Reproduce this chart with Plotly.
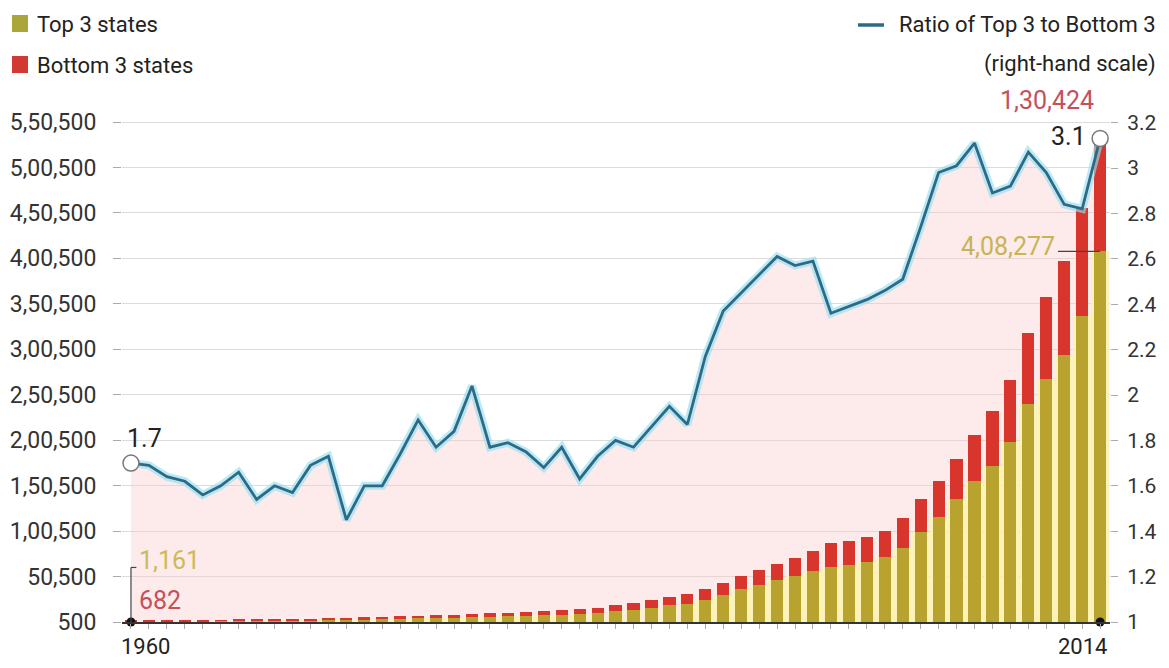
import plotly.graph_objects as go

years = list(range(1960, 2015))

top3 = [1161, 1225, 1273, 1391, 1584, 1662, 1872, 2122, 2215, 2321,
        2576, 2725, 2722, 3385, 3938, 4191, 4512, 4984, 5313, 5905,
        6390, 6801, 7318, 8087, 8690, 9173, 10329, 12214, 13930, 16259,
        18773, 20199, 25054, 30592, 36572, 41570, 46633, 50896, 56705, 61529,
        63381, 66232, 71738, 81808, 99856, 116504, 135262, 155727, 172583, 198888,
        239867, 268045, 294354, 336628, 408277]

bottom3 = [682, 725, 777, 859, 1016, 1038, 1128, 1378, 1385, 1479,
           1524, 1575, 1878, 2115, 2462, 2409, 2388, 2816, 2887, 2895,
           3610, 3799, 4182, 4813, 4910, 5627, 5971, 6786, 7870, 8741,
           9627, 10801, 11546, 12908, 14928, 16430, 17867, 19804, 21895, 26071,
           26519, 27368, 29162, 32592, 36444, 39096, 44938, 50073, 59717, 68112,
           78133, 89955, 103646, 119372, 130424]

ratio = [1.70, 1.69, 1.64, 1.62, 1.56, 1.60, 1.66, 1.54, 1.60, 1.57,
         1.69, 1.73, 1.45, 1.60, 1.60, 1.74, 1.89, 1.77, 1.84, 2.04,
         1.77, 1.79, 1.75, 1.68, 1.77, 1.63, 1.73, 1.80, 1.77, 1.86,
         1.95, 1.87, 2.17, 2.37, 2.45, 2.53, 2.61, 2.57, 2.59, 2.36,
         2.39, 2.42, 2.46, 2.51, 2.74, 2.98, 3.01, 3.11, 2.89, 2.92,
         3.07, 2.98, 2.84, 2.82, 3.13]

left_ticks = [500, 50500, 100500, 150500, 200500, 250500, 300500,
              350500, 400500, 450500, 500500, 550500]
left_labels = ["500", "50,500", "1,00,500", "1,50,500", "2,00,500", "2,50,500",
               "3,00,500", "3,50,500", "4,00,500", "4,50,500", "5,00,500", "5,50,500"]
right_ticks = [1, 1.2, 1.4, 1.6, 1.8, 2, 2.2, 2.4, 2.6, 2.8, 3, 3.2]
right_labels = ["1", "1.2", "1.4", "1.6", "1.8", "2", "2.2", "2.4", "2.6", "2.8", "3", "3.2"]

legend_labels = ["Top 3 states", "Bottom 3 states", "Ratio of Top 3 to Bottom 3", "(right-hand scale)"]

OLIVE = "#b8a330"
RED = "#d8362c"
LINE = "#2c6a85"
FONT = "Roboto, sans-serif"

fig = go.Figure()

# pink area under the ratio line (main subplot, drawn first)
fig.add_trace(go.Scatter(x=years, y=ratio, yaxis="y", mode="lines",
                         line=dict(width=0), fill="tozeroy",
                         fillcolor="rgba(250,200,200,0.38)",
                         showlegend=False, hoverinfo="skip"))

# pale glow behind olive bars
fig.add_trace(go.Bar(x=years, y=top3, yaxis="y2", width=0.98,
                     marker=dict(color="#fdf3b8", line=dict(width=0)),
                     showlegend=False, hoverinfo="skip"))
fig.add_trace(go.Bar(x=years, y=top3, yaxis="y2", width=0.68, name=legend_labels[0],
                     marker=dict(color=OLIVE, line=dict(width=0)), showlegend=False))
fig.add_trace(go.Bar(x=years, y=bottom3, base=top3, yaxis="y2", width=0.68,
                     name=legend_labels[1],
                     marker=dict(color=RED, line=dict(width=0)), showlegend=False))

# axis dots
fig.add_trace(go.Scatter(x=[years[0], years[-1]], y=[500, 500], yaxis="y2",
                         mode="markers", marker=dict(size=9, color="#111"),
                         cliponaxis=False, showlegend=False, hoverinfo="skip"))

# ratio line with glow
fig.add_trace(go.Scatter(x=years, y=ratio, yaxis="y3", mode="lines",
                         line=dict(width=8, color="rgba(150,222,242,0.65)"),
                         showlegend=False, hoverinfo="skip"))
fig.add_trace(go.Scatter(x=years, y=ratio, yaxis="y3", mode="lines",
                         line=dict(width=2.8, color=LINE),
                         name=legend_labels[2], showlegend=False))
fig.add_trace(go.Scatter(x=[years[0], years[-1]], y=[ratio[0], ratio[-1]], yaxis="y3",
                         mode="markers",
                         marker=dict(size=16, color="white", line=dict(width=1.5, color="#777")),
                         cliponaxis=False, showlegend=False, hoverinfo="skip"))

# helpers: page pixel -> paper fraction (plot area 988 x 522, left 122, bottom 622)
def px(x):
    return (x - 122) / 988.0


def py(y):
    return (622 - y) / 522.0


LEG_FONT = dict(size=22, color="#222", family=FONT)

annotations = [
    # legend texts
    dict(x=px(35), y=py(24), xref="paper", yref="paper", text=legend_labels[0],
         showarrow=False, xanchor="left", yanchor="middle", font=LEG_FONT),
    dict(x=px(35), y=py(65), xref="paper", yref="paper", text=legend_labels[1],
         showarrow=False, xanchor="left", yanchor="middle", font=LEG_FONT),
    dict(x=px(1158), y=py(25), xref="paper", yref="paper", text=legend_labels[2],
         showarrow=False, xanchor="right", yanchor="middle", font=LEG_FONT),
    dict(x=px(1158), y=py(64), xref="paper", yref="paper", text=legend_labels[3],
         showarrow=False, xanchor="right", yanchor="middle", font=LEG_FONT),
    # x-axis end labels
    dict(x=years[0], y=py(646), xref="x", yref="paper", text=str(years[0]),
         showarrow=False, xanchor="left", yanchor="middle", xshift=-12,
         font=dict(size=22, color="#222", family=FONT)),
    dict(x=years[-1], y=py(646), xref="x", yref="paper", text=str(years[-1]),
         showarrow=False, xanchor="right", yanchor="middle", xshift=9,
         font=dict(size=22, color="#222", family=FONT)),
    # data labels
    dict(x=years[0], y=ratio[0], xref="x", yref="y", text="1.7", showarrow=False,
         xanchor="left", yanchor="middle", xshift=-6, yshift=25,
         font=dict(size=25, color="#222", family=FONT)),
    dict(x=years[-1], y=ratio[-1], xref="x", yref="y", text="3.1", showarrow=False,
         xanchor="right", yanchor="middle", xshift=-12, yshift=2,
         font=dict(size=25, color="#222", family=FONT)),
    dict(x=years[-1], y=3.2, xref="x", yref="y", text="1,30,424", showarrow=False,
         xanchor="right", yanchor="middle", xshift=-4, yshift=22,
         font=dict(size=25, color="#c4505c", family=FONT)),
    dict(x=2011.6, y=top3[-1], xref="x", yref="y2", text="4,08,277", showarrow=False,
         xanchor="right", yanchor="middle", xshift=0, yshift=5,
         font=dict(size=25, color="#c6b455", family=FONT)),
    dict(x=years[0], y=500, xref="x", yref="y2", text="1,161", showarrow=False,
         xanchor="left", yanchor="middle", xshift=6, yshift=62,
         font=dict(size=25, color="#cbbb5a", family=FONT)),
    dict(x=years[0], y=500, xref="x", yref="y2", text="682", showarrow=False,
         xanchor="left", yanchor="middle", xshift=6, yshift=22,
         font=dict(size=25, color="#c4505c", family=FONT)),
]

shapes = [
    # legend swatches
    dict(type="rect", xref="paper", yref="paper", x0=px(12), x1=px(28), y0=py(32), y1=py(15),
         fillcolor="#aaa63a", line=dict(width=0)),
    dict(type="rect", xref="paper", yref="paper", x0=px(12), x1=px(28), y0=py(73), y1=py(56),
         fillcolor="#d03a30", line=dict(width=0)),
    dict(type="line", xref="paper", yref="paper", x0=px(858), x1=px(884), y0=py(25), y1=py(25),
         line=dict(color=LINE, width=3.5)),
    # 1960 bracket
    dict(type="line", xref="x", yref="y2", x0=years[0], x1=years[0], y0=500, y1=60500,
         line=dict(color="#444", width=1.2)),
    dict(type="line", xref="x", yref="y2", x0=years[0], x1=years[0] + 0.3, y0=60500, y1=60500,
         line=dict(color="#444", width=1.2)),
    # 4,08,277 leader
    dict(type="line", xref="x", yref="y2", x0=2011.65, x1=years[-1], y0=top3[-1], y1=top3[-1],
         line=dict(color="#444", width=1.2)),
]

# sized so the page (with the browser's default 8px body margin) does not overflow the window
fig.update_layout(
    width=1153, height=652,
    margin=dict(l=114, r=51, t=92, b=38),
    paper_bgcolor="white", plot_bgcolor="white",
    font=dict(family=FONT, color="#333"),
    barmode="overlay",
    bargap=0,
    showlegend=False,
    xaxis=dict(range=[1959.5, 2014.55], tickmode="array", tickvals=years,
               ticktext=["" for _ in years],
               ticks="outside", ticklen=5, tickcolor="#aaa", tickwidth=1,
               showline=True, linecolor="#333", linewidth=1.5, showgrid=False,
               zeroline=False, automargin=False),
    yaxis=dict(range=[1, 3.2996], side="right", tickmode="array", tickvals=right_ticks,
               ticktext=right_labels, ticks="outside", ticklen=7, tickcolor="#aaa",
               ticklabelstandoff=5, showgrid=False, zeroline=False, showline=False,
               tickfont=dict(size=21, color="#333"), automargin=False),
    yaxis2=dict(range=[500, 574700], overlaying="y", side="left", tickmode="array",
                tickvals=left_ticks, ticktext=left_labels, ticks="outside", ticklen=8,
                tickcolor="#aaa", ticklabelstandoff=12, showgrid=True, gridcolor="#dcdcdc",
                gridwidth=1, zeroline=False, showline=False,
                tickfont=dict(size=23, color="#333"), automargin=False),
    yaxis3=dict(range=[1, 3.2996], overlaying="y", matches="y", visible=False),
    annotations=annotations,
    shapes=shapes,
)

fig.write_html("out.html")
